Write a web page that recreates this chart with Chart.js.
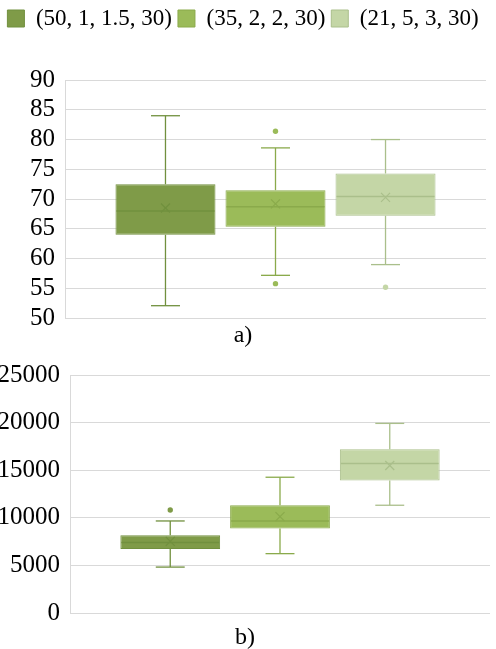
<!DOCTYPE html>
<html>
<head>
<meta charset="utf-8">
<script src="https://cdn.jsdelivr.net/npm/chart.js@4.4.1/dist/chart.umd.min.js"></script>
<style>
  html, body { margin: 0; padding: 0; background: #fff; overflow: hidden; width: 496px; height: 649px; }
  #wa { position: absolute; left: 0; top: 0; width: 496px; height: 350px; }
  #wb { position: absolute; left: 0; top: 348px; width: 496px; height: 304px; }
</style>
</head>
<body>
<div id="wa"><canvas id="ca" width="496" height="350"></canvas></div>
<div id="wb"><canvas id="cb" width="496" height="304"></canvas></div>
<script>
// ---- data ----
const seriesLabels = ['(50, 1, 1.5, 30)', '(35, 2, 2, 30)', '(21, 5, 3, 30)'];
const category = [''];

// panel a)
const aMin      = [52.1, 57.2, 59.0];
const aQ1       = [64.0, 65.35, 67.2];
const aMedian   = [68.0, 68.7, 70.45];
const aQ3       = [72.5, 71.5, 74.3];
const aMax      = [84.0, 78.6, 80.0];
const aMean     = [68.5, 69.2, 70.3];
const aOutliers = [[], [81.4, 55.8], [55.2]];
const aTicks    = [50, 55, 60, 65, 70, 75, 80, 85, 90];

// panel b)
const bMin      = [4840, 6250, 11330];
const bQ1       = [6730, 8900, 13920];
const bMedian   = [7430, 9680, 15710];
const bQ3       = [8170, 11330, 17220];
const bMax      = [9680, 14270, 19920];
const bMean     = [7540, 10140, 15500];
const bOutliers = [[10830], [], []];
const bTicks    = [0, 5000, 10000, 15000, 20000, 25000];

// ---- styles ----
const fills   = ['#7F9B48', '#9BBB59', '#C4D6A6'];
const strokes = ['#71903E', '#8AAA4B', '#AABF8B'];
const FONT = "'Liberation Serif', 'Times New Roman', serif";
Chart.defaults.color = '#000';
Chart.defaults.font.family = FONT;

function makeDatasets(q1, q3) {
  return seriesLabels.map((lab, i) => ({
    label: lab,
    data: [[q1[i], q3[i]]],
    backgroundColor: fills[i],
    borderColor: strokes[i],
    borderWidth: 1,
    borderSkipped: false,
    categoryPercentage: 0.784,
    barPercentage: 0.909
  }));
}

function boxExtras(st) {
  return {
    id: 'boxExtras',
    afterDatasetsDraw(chart) {
      const ctx = chart.ctx;
      const ys = chart.scales.y;
      const py = v => ys.getPixelForValue(v);
      const seg = (x1, y1, x2, y2) => { ctx.beginPath(); ctx.moveTo(x1, y1); ctx.lineTo(x2, y2); ctx.stroke(); };
      chart.data.datasets.forEach((ds, i) => {
        const el = chart.getDatasetMeta(i).data[0];
        if (!el) return;
        const x = el.x, w = el.width;
        const cap = w * 0.145;
        ctx.save();
        ctx.strokeStyle = strokes[i];
        ctx.lineWidth = 1.3;
        // whiskers
        seg(x, py(st.q3[i]), x, py(st.max[i]));
        seg(x, py(st.q1[i]), x, py(st.min[i]));
        seg(x - cap, py(st.max[i]), x + cap, py(st.max[i]));
        seg(x - cap, py(st.min[i]), x + cap, py(st.min[i]));
        // median
        ctx.lineWidth = 1.5;
        seg(x - w / 2 + 1, py(st.median[i]), x + w / 2 - 1, py(st.median[i]));
        // mean marker
        const m = py(st.mean[i]), s = 4.5;
        ctx.lineWidth = 1.2;
        seg(x - s, m - s, x + s, m + s);
        seg(x - s, m + s, x + s, m - s);
        // outliers
        ctx.fillStyle = fills[i];
        st.out[i].forEach(v => {
          ctx.beginPath(); ctx.arc(x, py(v), 2.7, 0, Math.PI * 2); ctx.fill();
        });
        ctx.restore();
      });
    }
  };
}

const legendSpace = {
  id: 'legendSpace',
  afterInit(chart) {
    const lg = chart.legend;
    if (!lg) return;
    const fit = lg.fit;
    lg.fit = function () { fit.call(this); this.height += 40; };
  }
};

function yScale(min, max, step, width) {
  return {
    min: min, max: max,
    ticks: { stepSize: step, autoSkip: false, padding: 10, color: '#000', font: { size: 25, family: FONT },
             callback: v => String(v) },
    grid: { color: '#D9D9D9', lineWidth: 1, drawTicks: false },
    border: { display: true, color: '#D9D9D9', width: 1 },
    afterFit: s => { s.width = width; }
  };
}

const xScale = {
  ticks: { display: false },
  grid: { display: false, drawTicks: false },
  border: { display: false }
};

// ---- chart a ----
new Chart(document.getElementById('ca'), {
  type: 'bar',
  data: { labels: category, datasets: makeDatasets(aQ1, aQ3) },
  options: {
    responsive: false, animation: false, devicePixelRatio: 1,
    layout: { padding: { top: 1, right: 10, left: 0, bottom: 0 } },
    scales: {
      x: xScale,
      y: yScale(aTicks[0], aTicks[aTicks.length - 1], 5, 65)
    },
    plugins: {
      tooltip: { enabled: false },
      legend: {
        position: 'top',
        labels: { boxWidth: 17, boxHeight: 17, padding: 6, font: { size: 23, family: FONT }, color: '#000' }
      },
      title: {
        display: true, text: 'a)', position: 'bottom', color: '#000',
        font: { size: 24, family: FONT, weight: 'normal', lineHeight: 1.2 },
        padding: { top: 3, bottom: 0 }
      }
    }
  },
  plugins: [legendSpace, boxExtras({ min: aMin, q1: aQ1, median: aMedian, q3: aQ3, max: aMax, mean: aMean, out: aOutliers })]
});

// ---- chart b ----
new Chart(document.getElementById('cb'), {
  type: 'bar',
  data: { labels: category, datasets: makeDatasets(bQ1, bQ3) },
  options: {
    responsive: false, animation: false, devicePixelRatio: 1,
    layout: { padding: { top: 27, right: 6, left: 0, bottom: 0 } },
    scales: {
      x: xScale,
      y: yScale(bTicks[0], bTicks[bTicks.length - 1], 5000, 70)
    },
    plugins: {
      tooltip: { enabled: false },
      legend: { display: false },
      title: {
        display: true, text: 'b)', position: 'bottom', color: '#000',
        font: { size: 24, family: FONT, weight: 'normal', lineHeight: 1.2 },
        padding: { top: 10, bottom: 0 }
      }
    }
  },
  plugins: [boxExtras({ min: bMin, q1: bQ1, median: bMedian, q3: bQ3, max: bMax, mean: bMean, out: bOutliers })]
});
</script>
</body>
</html>
